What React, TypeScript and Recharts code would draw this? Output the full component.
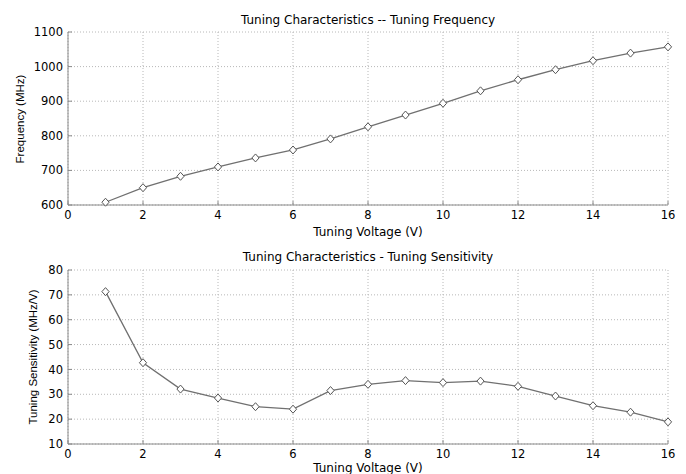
import React from "react";
import { LineChart, Line, XAxis, YAxis, CartesianGrid } from "recharts";

const voltages = [1, 2, 3, 4, 5, 6, 7, 8, 9, 10, 11, 12, 13, 14, 15, 16];
const frequencyMHz = [608, 650, 683, 710, 736, 759, 791, 826, 860, 894, 930, 962, 991, 1017, 1039, 1057];
const sensitivity = [71.3, 42.7, 32.1, 28.5, 25.0, 24.0, 31.5, 34.0, 35.5, 34.7, 35.3, 33.2, 29.3, 25.4, 22.8, 18.9];
const xTicks = [0, 2, 4, 6, 8, 10, 12, 14, 16];
const freqTicks = [600, 700, 800, 900, 1000, 1100];
const sensTicks = [10, 20, 30, 40, 50, 60, 70, 80];

const freqData = voltages.map((v, i) => ({ v, y: frequencyMHz[i] }));
const sensData = voltages.map((v, i) => ({ v, y: sensitivity[i] }));

const AXIS = "#8a8a8a";
const tickStyle = { fontFamily: "DejaVu Sans", fontSize: 11.5, fill: "#000" };
const emptyTick = () => <g />;

const Diamond = (props: any) => {
  const { cx, cy, index } = props;
  if (cx == null || cy == null) return <g key={index} />;
  return (
    <path
      key={index}
      d={`M${cx},${cy - 4} L${cx + 3.6},${cy} L${cx},${cy + 4} L${cx - 3.6},${cy} Z`}
      fill="#fff"
      stroke="#555"
      strokeWidth={1}
    />
  );
};

const Panel = ({ data, domain, yTicks, height, top, xAxisHeight }: any) => (
  <LineChart
    width={686}
    height={height}
    data={data}
    margin={{ top, right: 18, bottom: 0, left: 0 }}
  >
    <CartesianGrid stroke="#b8b8b8" strokeDasharray="1 2" />
    <XAxis
      dataKey="v"
      type="number"
      domain={[0, 16]}
      ticks={xTicks}
      height={xAxisHeight}
      stroke={AXIS}
      tickSize={-4}
      tickMargin={10}
      tick={tickStyle}
      interval={0}
    />
    <XAxis
      xAxisId="t"
      dataKey="v"
      type="number"
      orientation="top"
      domain={[0, 16]}
      ticks={xTicks}
      height={0}
      stroke={AXIS}
      tickSize={-4}
      tick={emptyTick}
      interval={0}
    />
    <YAxis
      type="number"
      domain={domain}
      ticks={yTicks}
      width={68}
      stroke={AXIS}
      tickSize={-4}
      tickMargin={9}
      tick={tickStyle}
      interval={0}
    />
    <YAxis
      yAxisId="r"
      type="number"
      orientation="right"
      domain={domain}
      ticks={yTicks}
      width={0}
      stroke={AXIS}
      tickSize={-4}
      tick={emptyTick}
      interval={0}
    />
    <Line
      dataKey="y"
      stroke="#707070"
      strokeWidth={1.3}
      dot={Diamond}
      activeDot={false}
      isAnimationActive={false}
    />
  </LineChart>
);

const textBase: React.CSSProperties = {
  position: "absolute",
  whiteSpace: "nowrap",
  color: "#000",
  fontFamily: "DejaVu Sans",
  fontSize: 12,
  lineHeight: "14px",
  transform: "translate(-50%, -50%)",
};

const yLabel: React.CSSProperties = {
  ...textBase,
  fontFamily: "Liberation Sans",
  fontSize: 11.5,
  transform: "translate(-50%, -50%) rotate(-90deg)",
};

export default function App() {
  return (
    <div
      style={{
        position: "absolute",
        left: 0,
        top: 0,
        width: 686,
        height: 474,
        background: "#fff",
        overflow: "hidden",
      }}
    >
      <div style={{ position: "absolute", left: 0, top: 0 }}>
        <Panel data={freqData} domain={[600, 1100]} yTicks={freqTicks} height={240} top={32} xAxisHeight={35} />
      </div>
      <div style={{ position: "absolute", left: 0, top: 240 }}>
        <Panel data={sensData} domain={[10, 80]} yTicks={sensTicks} height={234} top={30} xAxisHeight={30} />
      </div>
      <div style={{ ...textBase, left: 368, top: 20 }}>Tuning Characteristics -- Tuning Frequency</div>
      <div style={{ ...textBase, left: 368, top: 232 }}>Tuning Voltage (V)</div>
      <div style={{ ...yLabel, left: 20, top: 119 }}>Frequency (MHz)</div>
      <div style={{ ...textBase, left: 368, top: 257 }}>Tuning Characteristics - Tuning Sensitivity</div>
      <div style={{ ...textBase, left: 368, top: 468, lineHeight: "11px" }}>Tuning Voltage (V)</div>
      <div style={{ ...yLabel, left: 33, top: 357 }}>Tuning Sensitivity (MHz/V)</div>
    </div>
  );
}
